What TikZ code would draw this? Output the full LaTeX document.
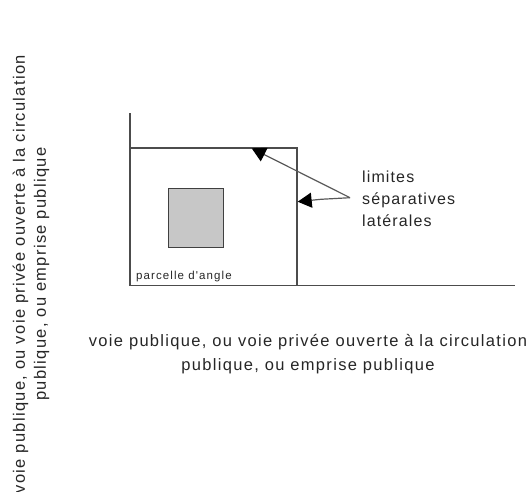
\documentclass[tikz,border=0pt]{standalone}
\usepackage{fontspec}
\setmainfont{Liberation Sans}
\newfontfamily\spaced[LetterSpace=8]{Liberation Sans}
\newfontfamily\spacedlim[LetterSpace=7]{Liberation Sans}
\newfontfamily\spacedsm[LetterSpace=9.5]{Liberation Sans}
\usetikzlibrary{arrows.meta}
\tikzset{
  lin/.style={draw=black!70,line width=1.3pt},
  ptr/.style={draw=black!65,line width=1.2pt,-{Triangle[length=14pt,width=15pt,fill=black,color=black]}},
  lab/.style={inner sep=0pt,text=black!85},
}
\begin{document}
\begin{tikzpicture}[x=1pt,y=-1pt]
\useasboundingbox (0,0) rectangle (532,491);
\clip (0,0) rectangle (532,491);
\coordinate (tl) at (130,113);
\coordinate (c) at (130,148);
\coordinate (tr) at (297,148);
\coordinate (bl) at (130,285.5);
\coordinate (br) at (297,285.5);
\coordinate (be) at (515,285.5);
\coordinate (hub) at (350,197.7);
\coordinate (a1) at (251.7,148.3);
\coordinate (a2) at (297.7,201.7);
\coordinate (k) at (320.7,199.3);
\draw[lin] (tl) -- (bl) -- (be);
\draw[lin] (c) -- (tr) -- (br);
\node[draw=black!75,line width=1.2pt,fill=black!22,minimum width=55pt,minimum height=59pt,inner sep=0pt,anchor=north west] (house) at (168,188) {};
\node[lab,font={\spacedsm\fontsize{11.5}{14}\selectfont},anchor=base west] (parc) at (136,279) {parcelle d'angle};
\draw[ptr] (hub) -- (a1);
\draw[ptr] (hub) -- (k) -- (a2);
\node[lab,align=left,anchor=base west,font={\spacedlim\fontsize{16}{22}\selectfont}] (lim) at (362,226) {limites\\séparatives\\latérales};
\node[lab,align=center,anchor=center,font={\spaced\fontsize{16.5}{24}\selectfont}] (bot) at (308,354) {voie publique, ou voie privée ouverte à la circulation\\publique, ou emprise publique};
\node[lab,align=center,rotate=90,anchor=center,font={\spaced\fontsize{16.5}{21}\selectfont}] (left) at (31,274) {voie publique, ou voie privée ouverte à la circulation\\publique, ou emprise publique};
\end{tikzpicture}
\end{document}
